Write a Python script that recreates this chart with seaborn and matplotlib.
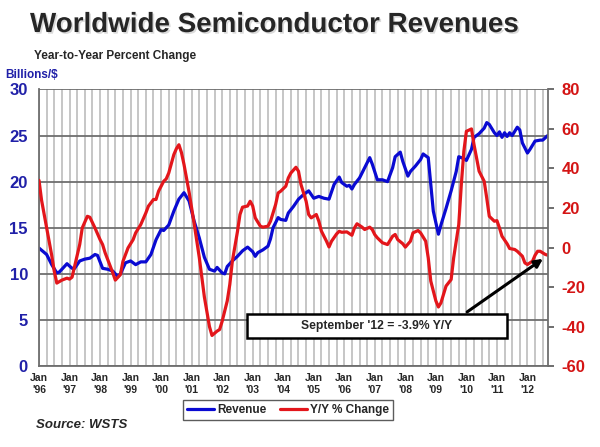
import matplotlib
matplotlib.use("Agg")
import matplotlib.pyplot as plt
import matplotlib.patheffects as pe
from matplotlib.patches import Rectangle
from matplotlib.lines import Line2D
import seaborn as sns
import pandas as pd

# months since Jan 1996, billions of dollars (monthly revenue)
rev_month = [0, 3, 5, 7, 8, 10, 11, 13, 14, 16, 18, 20, 22, 23, 25, 27, 29, 31, 32, 34,
             36, 38, 40, 42, 44, 46, 48, 49, 51, 53, 55, 57, 59, 61, 63, 65, 67, 69, 70, 72,
             73, 74, 76, 78, 80, 82, 84, 85, 86, 88, 90, 91, 92, 94, 95, 97, 98, 100, 102, 104,
             106, 107, 108, 110, 112, 114, 116, 118, 119, 121, 122, 123, 124, 126, 128, 130, 131, 133, 135, 137,
             139, 140, 142, 143, 145, 146, 148, 150, 151, 153, 154, 155, 157, 158, 160, 162, 164, 165, 167, 168,
             170, 171, 173, 175, 176, 177, 179, 180, 181, 182, 183, 184, 185, 186, 188, 189, 190, 192, 193, 195,
             197, 198, 200]
rev_value = [12.8, 12.1, 11.0, 10.1, 10.2, 10.8, 11.1, 10.6, 10.6, 11.4, 11.6, 11.7, 12.1, 12.0, 10.6, 10.5, 10.3, 9.7, 10.0, 11.2,
             11.4, 11.0, 11.3, 11.3, 12.1, 13.7, 14.8, 14.7, 15.3, 16.8, 18.1, 18.8, 17.9, 15.7, 13.9, 11.8, 10.5, 10.3, 10.7, 10.1,
             10.0, 10.8, 11.4, 11.9, 12.5, 12.9, 12.4, 11.9, 12.3, 12.6, 13.0, 13.8, 15.0, 16.1, 15.9, 15.8, 16.6, 17.3, 18.1, 18.6,
             19.0, 18.6, 18.2, 18.4, 18.2, 18.1, 19.7, 20.5, 19.9, 19.5, 19.6, 19.2, 19.7, 20.4, 21.5, 22.6, 21.9, 20.2, 20.2, 20.0,
             21.5, 22.7, 23.2, 22.2, 20.6, 21.1, 21.7, 22.4, 23.0, 22.6, 19.7, 16.8, 14.3, 15.3, 17.1, 19.0, 21.1, 22.7, 22.5, 22.3,
             23.5, 24.8, 25.2, 25.8, 26.4, 26.2, 25.3, 25.0, 25.4, 24.8, 25.3, 24.9, 25.3, 25.0, 25.9, 25.6, 24.2, 23.1, 23.5, 24.4,
             24.5, 24.5, 25.0]

# months since Jan 1996, year-to-year percent change
yoy_month = [0, 1, 3, 5, 6, 7, 9, 11, 12, 13, 14, 16, 17, 19, 20, 22, 24, 25, 26, 28,
             29, 30, 32, 33, 35, 37, 38, 40, 42, 43, 45, 46, 47, 49, 50, 51, 53, 54, 55, 56,
             57, 59, 61, 63, 65, 67, 68, 70, 71, 72, 74, 75, 76, 78, 79, 80, 82, 83, 84, 85,
             87, 88, 90, 91, 93, 94, 95, 97, 98, 99, 101, 102, 103, 105, 106, 107, 109, 110, 111, 113,
             114, 115, 117, 118, 119, 121, 123, 124, 125, 127, 128, 130, 131, 132, 133, 135, 137, 139, 140, 141,
             143, 144, 146, 147, 149, 150, 152, 153, 154, 156, 157, 158, 159, 160, 162, 163, 165, 166, 167, 168,
             170, 171, 172, 173, 175, 176, 177, 179, 180, 181, 182, 184, 185, 187, 188, 190, 191, 192, 194, 195,
             196, 197, 198, 199, 200]
yoy_value = [34, 24, 10, -4, -12, -18, -16.5, -15.5, -16, -15, -9.5, 1.5, 9.9, 15.8, 15.3, 9.9, 4, 1.5, -2.7, -9.4,
             -12.8, -16.5, -13.7, -7, -0.2, 4, 7.4, 11.6, 17.5, 20.9, 24.3, 24.3, 28.5, 33.5, 34.7, 37.7, 47, 50, 52, 48,
             42, 28, 12, -5, -25, -40, -44.5, -42.3, -41.5, -37.3, -27, -18.7, -7, 8, 16.7, 20.4, 21, 23.4, 21, 15,
             10.8, 10.3, 10.8, 13.3, 21.7, 27.6, 28.5, 31, 35.2, 37.7, 40.6, 38.6, 31.8, 23.4, 16.7, 15, 16.7, 13.3, 8.3, 3.2,
             0.3, 3.2, 6.9, 8.2, 7.7, 7.9, 6.2, 9.9, 12, 10.3, 9.1, 10.3, 9.1, 6.5, 4.9, 2.4, 1.5, 5.7, 6.6, 4,
             1.9, 0.2, 3.2, 7.4, 8.6, 7.4, 3.2, -5.2, -17, -27, -30.1, -28, -23.7, -19.5, -16.2, -5.2, 11.6, 31.8, 48.7, 58.8,
             60, 52, 45.3, 38.6, 33.5, 25, 15.8, 13.3, 13.6, 9.9, 5.7, 1.9, -0.5, -1, -1.9, -4.4, -7.8, -8.6, -6.9, -3.9,
             -1.9, -1.9, -2.7, -3.5, -3.9]

year_ticks = list(range(0, 193, 12))
year_labels = ["Jan\n'%02d" % ((96 + i) % 100) for i in range(len(year_ticks))]

rev_df = pd.DataFrame({"month": rev_month, "revenue": rev_value})
yoy_df = pd.DataFrame({"month": yoy_month, "yoy": yoy_value})

BLUE = "#0a0ad2"
RED = "#e3161b"
NAVY = "#2020a8"

sns.set_style("white")
plt.rcParams["font.family"] = ["Liberation Sans", "DejaVu Sans"]

fig = plt.figure(figsize=(6, 4.47), dpi=100)
ax = fig.add_axes([0.065, 0.181, 0.848, 0.619])
ax2 = ax.twinx()

# gridlines: quarterly verticals, horizontals every 5
ax.set_xlim(0, 200)
ax.set_ylim(0, 30)
ax.set_xticks(year_ticks)
ax.set_xticks(range(0, 200, 3), minor=True)
ax.set_xticklabels(year_labels, fontsize=7.5, fontweight="bold", linespacing=1.25)
ax.set_yticks(range(0, 31, 5))
ax.set_yticklabels([str(v) for v in range(0, 31, 5)], fontsize=12, fontweight="bold", color=NAVY)
ax.grid(which="both", axis="x", color="#c2c2c2", linewidth=1.3)
ax.grid(which="major", axis="y", color="#6e6e6e", linewidth=1.3)
ax.set_axisbelow(True)
ax.tick_params(axis="x", which="both", length=0, pad=5)
ax.tick_params(axis="y", length=0, pad=8)

ax2.set_ylim(-60, 80)
ax2.set_yticks(range(-60, 81, 20))
ax2.set_yticklabels([str(v) for v in range(-60, 81, 20)], fontsize=12, fontweight="bold", color="#d41414")
ax2.tick_params(axis="y", length=4, width=1.2, color="#555555", direction="out", pad=6)
ax2.grid(False)

for a in (ax, ax2):
    for side in ("top", "right", "left", "bottom"):
        a.spines[side].set_visible(False)
ax.spines["left"].set_visible(True)
ax.spines["left"].set_color("#6e6e6e")
ax.spines["left"].set_linewidth(1.3)
ax.spines["bottom"].set_visible(True)
ax.spines["bottom"].set_color("#6e6e6e")
ax.spines["bottom"].set_linewidth(1.3)
ax2.spines["right"].set_visible(True)
ax2.spines["right"].set_color("#6e6e6e")
ax2.spines["right"].set_linewidth(1.3)

sns.lineplot(data=rev_df, x="month", y="revenue", ax=ax, color=BLUE, linewidth=2.3, legend=False)
sns.lineplot(data=yoy_df, x="month", y="yoy", ax=ax2, color=RED, linewidth=2.3, legend=False)
ax.set_xlabel("")
ax.set_ylabel("")
ax2.set_ylabel("")

# callout box and arrow
ax2.add_patch(Rectangle((0.409, 0.103), 0.51, 0.085, transform=ax2.transAxes,
                        facecolor="white", edgecolor="black", linewidth=1.8, zorder=5))
ax2.text(0.664, 0.1455, "September '12 = -3.9% Y/Y", transform=ax2.transAxes,
         ha="center", va="center", fontsize=8.7, fontweight="bold", zorder=6)
ax2.annotate("", xy=(yoy_month[-1] - 1, yoy_value[-1] - 1), xycoords="data",
             xytext=(0.837, 0.19), textcoords="axes fraction",
             arrowprops=dict(arrowstyle="-|>", color="black", lw=2.2, mutation_scale=12),
             zorder=6)

# titles
fig.text(0.05, 0.944, "Worldwide Semiconductor Revenues", fontsize=20, fontweight="bold",
         ha="left", va="center",
         path_effects=[pe.withSimplePatchShadow(offset=(1.2, -1.2), shadow_rgbFace="#999999", alpha=0.35)])
fig.text(0.057, 0.875, "Year-to-Year Percent Change", fontsize=8.5, fontweight="bold",
         ha="left", va="center")
fig.text(0.008, 0.832, "Billions/$", fontsize=8.5, fontweight="bold", color=NAVY,
         ha="left", va="center")
fig.text(0.06, 0.049, "Source: WSTS", fontsize=9.5, fontweight="bold", style="italic",
         ha="left", va="center")

handles = [Line2D([], [], color=BLUE, linewidth=2.3), Line2D([], [], color=RED, linewidth=2.3)]
leg = fig.legend(handles, ["Revenue", "Y/Y % Change"], loc="center", bbox_to_anchor=(0.48, 0.083),
                 ncol=2, frameon=True, fancybox=False, edgecolor="#333333",
                 prop={"size": 8.5, "weight": "bold"}, handlelength=2.3, handletextpad=0.2,
                 columnspacing=1.2, borderpad=0.35)
leg.get_frame().set_linewidth(1.0)

fig.savefig("out.png", dpi=100)
